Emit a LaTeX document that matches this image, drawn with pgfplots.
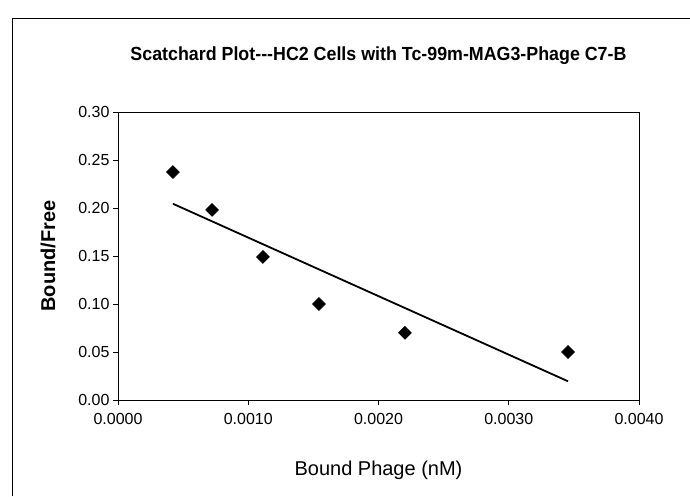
\documentclass[border=0pt]{standalone}
\usepackage{fontspec}
\setmainfont{Liberation Sans}
\usepackage{graphicx}
\usepackage{pgfplots}
\pgfplotsset{compat=1.18}
\begin{document}
\begin{tikzpicture}
\path[use as bounding box] (-118pt,-96pt) rectangle (572pt,400pt);
\draw[line width=0.9pt] (-106pt,-96pt) -- (-106pt,382pt) -- (572pt,382pt);
\begin{axis}[
  scale only axis,
  width=521pt, height=288pt,
  xmin=0, xmax=0.004, ymin=0, ymax=0.30,
  xtick={0,0.001,0.002,0.003,0.004},
  ytick={0,0.05,0.10,0.15,0.20,0.25,0.30},
  scaled x ticks=false, scaled y ticks=false,
  tick pos=left, tick align=outside,
  major tick length=5pt,
  axis line style={line width=0.8pt},
  tick style={line width=0.8pt, black},
  /pgf/number format/assume math mode=true,
  xticklabel style={yshift=-5pt, /pgf/number format/.cd, fixed, fixed zerofill, precision=4},
  yticklabel style={/pgf/number format/.cd, fixed, fixed zerofill, precision=2},
  ticklabel style={font=\fontsize{16}{19}\selectfont},
  title={\resizebox{496pt}{\height}{\fontsize{19}{22}\selectfont\bfseries Scatchard Plot-{}-{}-HC2 Cells with Tc-99m-MAG3-Phage C7-B}},
  title style={at={(axis description cs:0.5,1)}, anchor=base, yshift=46pt, inner sep=0pt},
  xlabel={Bound Phage (nM)},
  xlabel style={at={(axis description cs:0.5,0)}, anchor=center, yshift=-70pt, font=\fontsize{20}{24}\selectfont},
  ylabel={Bound/Free},
  ylabel style={at={(axis description cs:-0.1344,0.5)}, anchor=center, font=\fontsize{20}{24}\selectfont\bfseries},
  clip=false,
]
\addplot[only marks, mark=square*, mark size=4.6pt, mark options={rotate=45, fill=black, draw=black}]
  coordinates {
  (0.000422, 0.2375)
  (0.000722, 0.198)
  (0.001113, 0.149)
  (0.001543, 0.100)
  (0.002203, 0.070)
  (0.003455, 0.050)
  };
\addplot[no marks, black, line width=1.8pt]
  coordinates {(0.000422, 0.2044) (0.003455, 0.0195)};
\end{axis}
\end{tikzpicture}
\end{document}
